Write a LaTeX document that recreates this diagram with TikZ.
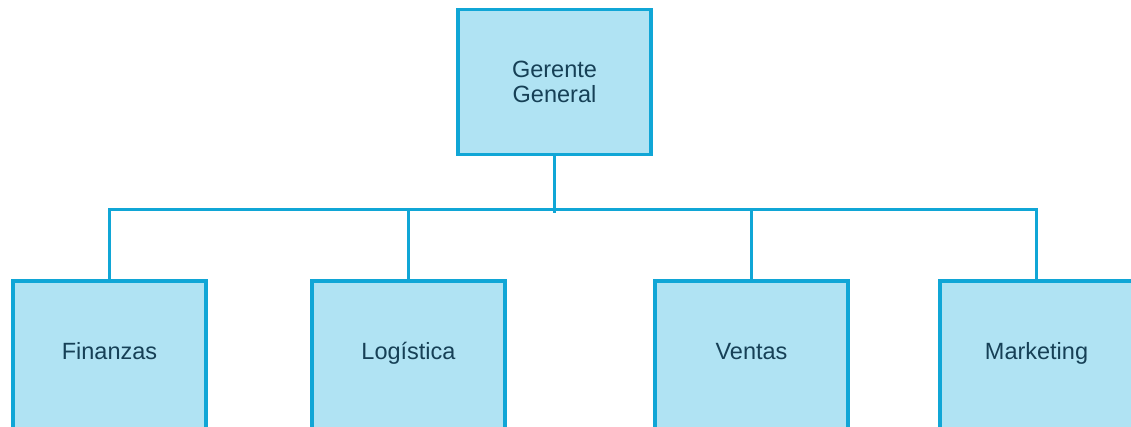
\documentclass[tikz,border=0pt]{standalone}
\usepackage{fontspec}
\setmainfont{Liberation Sans}
\usepackage{tikz}
\usetikzlibrary{positioning}

\definecolor{boxfill}{RGB}{176,227,243}
\definecolor{boxline}{RGB}{16,166,214}
\definecolor{boxtext}{RGB}{22,64,86}

\tikzset{
    unit/.style={draw=boxline, fill=boxfill, line width=3.5pt, minimum width=193pt,
        minimum height=145pt},
    tag/.style={text=boxtext, anchor=base, font=\fontsize{23.5}{25}\selectfont},
    link/.style={draw=boxline, line width=3pt}
}

\begin{document}
\begin{tikzpicture}[x=1pt, y=-1pt]
    \useasboundingbox (0,0) rectangle (1131,426);
    \clip (0,0) rectangle (1131,426);

    % Draw the head of the chart
    \node[unit] (ger) at (554.5,82) {};
    \node[tag] (gerA) at (554.5,77) {Gerente};
    \node[tag] (gerB) at (554.5,102) {General};

    % Draw the departments
    \node[unit, minimum height=175pt, anchor=north] (fin) at (109.5,279) {};
    \node[unit, minimum height=175pt, anchor=north] (log) at (408.5,279) {};
    \node[unit, minimum height=175pt, anchor=north] (ven) at (751.5,279) {};
    \node[unit, minimum height=175pt, anchor=north] (mkt) at (1036.5,279) {};
    \node[tag] (finT) at (109.5,359) {Finanzas};
    \node[tag] (logT) at (408.5,359) {Logística};
    \node[tag] (venT) at (751.5,359) {Ventas};
    \node[tag] (mktT) at (1036.5,359) {Marketing};

    % Draw the connectors
    \coordinate (bus) at (554.5,213);
    \draw[link] (ger.south) -- (bus);
    \draw[link] (fin.north) -- ++(0,-70) -| (mkt.north);
    \draw[link] (log.north) -- ++(0,-70);
    \draw[link] (ven.north) -- ++(0,-70);
\end{tikzpicture}
\end{document}
